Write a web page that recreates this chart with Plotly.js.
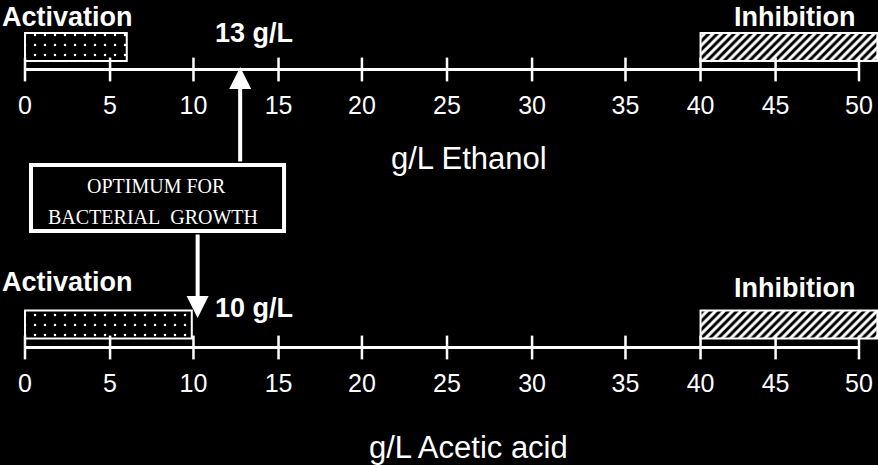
<!DOCTYPE html>
<html>
<head>
<meta charset="utf-8">
<script src="https://cdn.plot.ly/plotly-3.0.1.min.js"></script>
<style>
  html, body { margin: 0; padding: 0; background: #000; }
  #chart-area { width: 878px; height: 465px; }
</style>
</head>
<body>
<div id="chart-area"></div>
<script>
// ruler ticks (positions as drawn in the figure, the ruler is not quite even)
const tickText = ["0", "5", "10", "15", "20", "25", "30", "35", "40", "45", "50"];
const tickPos = [0, 5.1, 10.1, 15.2, 20.2, 25.3, 30.4, 36.0, 40.5, 45.0, 50.0];

// the two substrates
const rulerNames = ["g/L Ethanol", "g/L Acetic acid"];
const activationStart = [0, 0];
const activationEnd = [6.1, 10.0];
const inhibitionStart = [40.5, 40.5];
const inhibitionEnd = [51.1, 51.1];
const optimumPos = [12.9, 10.35];
const optimumText = ["13 g/L", "10 g/L"];

// vertical layout of each row (px from top)
const rulerY = [69.5, 347.5];
const boxY = [47, 324.5];
const tickLabelY = [108, 386];
const nameY = [158, 447];

const SANS = "Liberation Sans, Arial, sans-serif";
const SERIF = "Liberation Serif, Times New Roman, serif";

let data = [];
let annotations = [];

for (let k = 0; k < 2; k++) {
  // ruler line
  data.push({
    type: "scatter",
    mode: "lines",
    x: [tickPos[0], tickPos[tickPos.length - 1]],
    y: [rulerY[k], rulerY[k]],
    line: { color: "white", width: 3 },
    hoverinfo: "skip",
    showlegend: false,
  });
  // tick marks crossing the line
  data.push({
    type: "scatter",
    mode: "markers",
    x: tickPos,
    y: tickPos.map(() => rulerY[k]),
    marker: { symbol: "line-ns", size: 17, line: { color: "white", width: 2.5 } },
    hoverinfo: "skip",
    showlegend: false,
  });
  // tick labels
  data.push({
    type: "scatter",
    mode: "text",
    x: tickPos,
    y: tickPos.map(() => tickLabelY[k]),
    text: tickText,
    textposition: "middle center",
    textfont: { family: SANS, size: 25, color: "white" },
    hoverinfo: "skip",
    showlegend: false,
  });
  // activation box (dotted)
  data.push({
    type: "bar",
    orientation: "h",
    y: [boxY[k]],
    base: [activationStart[k]],
    x: [activationEnd[k] - activationStart[k]],
    width: [28],
    marker: {
      color: "black",
      line: { color: "white", width: 2 },
      pattern: { shape: ".", fgcolor: "white", bgcolor: "black", size: 10, solidity: 0.05 },
    },
    hoverinfo: "skip",
    showlegend: false,
  });
  // inhibition box (hatched)
  data.push({
    type: "bar",
    orientation: "h",
    y: [boxY[k]],
    base: [inhibitionStart[k]],
    x: [inhibitionEnd[k] - inhibitionStart[k]],
    width: [28],
    marker: {
      color: "black",
      line: { color: "white", width: 2 },
      pattern: { shape: "/", fgcolor: "white", bgcolor: "black", size: 6, solidity: 0.5 },
    },
    hoverinfo: "skip",
    showlegend: false,
  });

  // labels
  annotations.push({
    x: -1.49, y: k == 0 ? 16.5 : 282, xref: "x", yref: "y",
    text: "<b>Activation</b>", showarrow: false, xanchor: "left", yanchor: "middle",
    font: { family: SANS, size: 27, color: "white" },
  });
  annotations.push({
    x: 46.15, y: k == 0 ? 16.5 : 288, xref: "x", yref: "y",
    text: "<b>Inhibition</b>", showarrow: false, xanchor: "center", yanchor: "middle",
    font: { family: SANS, size: 27, color: "white" },
  });
  annotations.push({
    x: 11.25, y: k == 0 ? 33 : 308, xref: "x", yref: "y",
    text: "<b>" + optimumText[k] + "</b>", showarrow: false, xanchor: "left", yanchor: "middle",
    font: { family: SANS, size: 27, color: "white" },
  });
  annotations.push({
    x: 26.6, y: nameY[k], xref: "x", yref: "y",
    text: rulerNames[k], showarrow: false, xanchor: "center", yanchor: "middle",
    font: { family: SANS, size: 31, color: "white" },
  });
}

// arrows from the "optimum" box to both rulers
annotations.push({
  x: optimumPos[0], y: 67, ax: optimumPos[0], ay: 163,
  xref: "x", yref: "y", axref: "x", ayref: "y",
  text: "", showarrow: true, arrowhead: 2, arrowsize: 1.1, arrowwidth: 4, arrowcolor: "white",
});
annotations.push({
  x: optimumPos[1], y: 318, ax: optimumPos[1], ay: 233,
  xref: "x", yref: "y", axref: "x", ayref: "y",
  text: "", showarrow: true, arrowhead: 2, arrowsize: 1.1, arrowwidth: 4, arrowcolor: "white",
});
annotations.push({
  x: 7.9, y: 185.5, xref: "x", yref: "y",
  text: "OPTIMUM FOR", showarrow: false, xanchor: "center", yanchor: "middle",
  font: { family: SERIF, size: 20, color: "white" },
});
annotations.push({
  x: 7.65, y: 216.5, xref: "x", yref: "y",
  text: "BACTERIAL&nbsp;&nbsp;GROWTH", showarrow: false, xanchor: "center", yanchor: "middle",
  font: { family: SERIF, size: 20, color: "white" },
});

const layout = {
  width: 878,
  height: 465,
  margin: { l: 0, r: 0, t: 0, b: 0 },
  paper_bgcolor: "black",
  plot_bgcolor: "black",
  xaxis: { range: [-1.499, 51.139], visible: false, fixedrange: true },
  yaxis: { range: [465, 0], visible: false, fixedrange: true },
  shapes: [
    {
      type: "rect", xref: "x", yref: "y",
      x0: 0.36, x1: 15.53, y0: 165, y1: 231,
      line: { color: "white", width: 4 },
    },
  ],
  annotations: annotations,
  barmode: "overlay",
};

Plotly.newPlot("chart-area", data, layout, { staticPlot: true });
</script>
</body>
</html>
